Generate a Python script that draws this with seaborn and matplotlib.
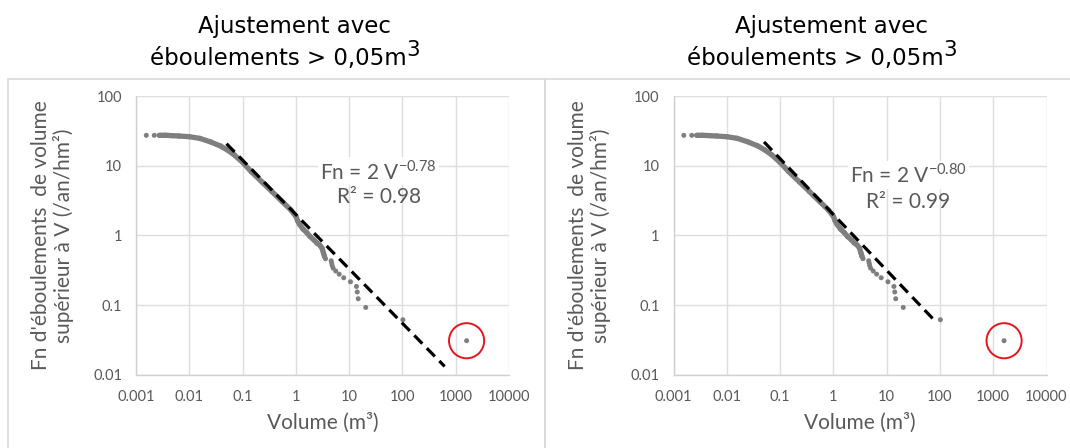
import matplotlib
matplotlib.use("Agg")
import matplotlib.pyplot as plt
from matplotlib.patches import Rectangle
import numpy as np
import pandas as pd
import seaborn as sns

# ---------------- data ----------------
# dense part of the cumulative curve (appears as a continuous thick line of dots)
curve_v = [0.0028, 0.0035, 0.0048, 0.0064, 0.010, 0.0157, 0.0245, 0.0384, 0.052,
           0.070, 0.101, 0.146, 0.229, 0.357, 0.558, 0.81, 1.01, 1.08, 1.17, 1.36,
           1.6, 1.84, 2.2, 2.48, 2.8, 3.09, 3.3, 3.45]
curve_fn = [27.3, 27.3, 27.0, 26.7, 26.1, 24.7, 22.1, 19.2, 16.8,
            14.3, 11.1, 8.2, 5.9, 4.25, 3.05, 2.32, 1.86, 1.62, 1.45, 1.24,
            1.10, 0.97, 0.86, 0.78, 0.73, 0.66, 0.56, 0.50]

# isolated points (start of the plateau and the tail)
point_v = [0.00156, 0.0022, 0.0027, 0.0030, 0.0033, 0.0036, 0.0040,
           3.6, 4.6, 4.7, 4.8, 5.0, 5.6, 6.5, 7.9, 10.6, 13.7, 14.2, 14.8, 20.5, 102, 1600]
point_fn = [27.3, 27.3, 27.3, 27.3, 27.3, 27.3, 27.3,
            0.465, 0.434, 0.403, 0.372, 0.341, 0.31, 0.279, 0.248, 0.217, 0.186, 0.155,
            0.124, 0.093, 0.062, 0.031]

# power-law fits shown on each panel: Fn = a * V^b
fit_a = [2, 2]
fit_b = [-0.78, -0.80]
fit_vmin = [0.05, 0.05]
fit_vmax = [620, 88]
r2_values = ["0.98", "0.99"]

x_ticks = [0.001, 0.01, 0.1, 1, 10, 100, 1000, 10000]
x_tick_labels = ["0.001", "0.01", "0.1", "1", "10", "100", "1000", "10000"]
y_ticks = [0.01, 0.1, 1, 10, 100]
y_tick_labels = ["0.01", "0.1", "1", "10", "100"]

title_line1 = "Ajustement avec"
title_line2 = "éboulements > 0,05m"
title_sup = "3"
x_label = "Volume (m³)"
y_label = "Fn d'éboulements  de volume\nsupérieur à V (/an/hm²)"

# ---------------- style ----------------
sns.set_theme(style="white")
plt.rcParams["font.family"] = ["Lato", "DejaVu Sans"]
plt.rcParams["mathtext.fontset"] = "custom"
plt.rcParams["mathtext.rm"] = "Lato"

TXT = "#595959"
GRID = "#dedede"
DOT = "#7f7f7f"

fig = plt.figure(figsize=(10.7, 4.48), dpi=100)
W, H = 1070.0, 448.0

# panel frames
fig.add_artist(Rectangle((7.5 / W, -0.05), (545 - 7.5) / W, 1.05 - 79.5 / H,
                         transform=fig.transFigure, fill=False, edgecolor="#d9d9d9", lw=1.2))
fig.add_artist(Rectangle((545 / W, -0.05), (1080 - 545) / W, 1.05 - 79.5 / H,
                         transform=fig.transFigure, fill=False, edgecolor="#d9d9d9", lw=1.2))

curve_df = pd.DataFrame({"V": curve_v, "Fn": curve_fn})
point_df = pd.DataFrame({"V": point_v, "Fn": point_fn})

ax_x0 = [136, 673.5]
title_cx = [294, 831]
title2_cx = [278, 815]
ann_x = [0.651, 0.630]
ann_y1 = [0.731, 0.717]
ann_y2 = [0.638, 0.621]

for i in range(2):
    ax = fig.add_axes([ax_x0[i] / W, 1 - 375 / H, 373 / W, 279 / H])
    ax.set_xscale("log")
    ax.set_yscale("log")
    ax.set_xlim(0.001, 10000)
    ax.set_ylim(0.01, 100)

    ax.grid(True, which="major", color=GRID, lw=1.0)
    ax.set_axisbelow(True)
    for s in ["top", "right"]:
        ax.spines[s].set_visible(False)
    for s in ["left", "bottom"]:
        ax.spines[s].set_color("#d0d0d0")
        ax.spines[s].set_linewidth(1.0)

    # data
    sns.lineplot(data=curve_df, x="V", y="Fn", ax=ax, color=DOT, lw=3.8,
                 solid_capstyle="round", zorder=3)
    sns.scatterplot(data=curve_df, x="V", y="Fn", ax=ax, color=DOT, s=14,
                    edgecolor="none", zorder=3)
    sns.scatterplot(data=point_df, x="V", y="Fn", ax=ax, color=DOT, s=13,
                    edgecolor="none", zorder=3)

    # fit line
    fv = np.array([fit_vmin[i], fit_vmax[i]])
    fit_df = pd.DataFrame({"V": fv, "Fn": fit_a[i] * fv ** fit_b[i]})
    sns.lineplot(data=fit_df, x="V", y="Fn", ax=ax, color="black", lw=2.3,
                 linestyle=(0, (3.6, 2.0)), zorder=4)

    # red circle around the outlier
    ax.scatter([point_v[-1]], [point_fn[-1]], s=640, facecolors="none",
               edgecolors="#e8141c", linewidths=1.4, zorder=5)

    # equation
    ax.text(ann_x[i], ann_y1[i],
            "Fn = %d V$^{\\mathregular{%.2f}}$" % (fit_a[i], fit_b[i]),
            transform=ax.transAxes, ha="center", va="center", fontsize=15, color=TXT,
            bbox=dict(facecolor="white", edgecolor="none", pad=1.5), zorder=6)
    ax.text(ann_x[i], ann_y2[i], "R² = " + r2_values[i],
            transform=ax.transAxes, ha="center", va="center", fontsize=15, color=TXT,
            zorder=6)

    ax.set_xticks(x_ticks)
    ax.set_xticklabels(x_tick_labels)
    ax.set_yticks(y_ticks)
    ax.set_yticklabels(y_tick_labels)
    ax.minorticks_off()
    ax.tick_params(axis="both", length=0, labelsize=10.5, labelcolor=TXT)
    ax.tick_params(axis="x", pad=11)
    ax.tick_params(axis="y", pad=10)

    ax.set_xlabel(x_label, fontsize=15, color=TXT, labelpad=6)
    ax.set_ylabel(y_label, fontsize=15, color=TXT, labelpad=14, linespacing=1.1)

    fig.text(title_cx[i] / W, 1 - 27 / H, title_line1, ha="center", va="center",
             fontsize=16.5, color="black", family="DejaVu Sans")
    t2 = fig.text(title2_cx[i] / W, 1 - 58 / H, title_line2, ha="center", va="center",
                  fontsize=16.5, color="black", family="DejaVu Sans")
    ax.annotate(title_sup, xy=(1.0, 0.42), xycoords=t2, xytext=(0.3, 0),
                textcoords="offset points", ha="left", va="bottom",
                fontsize=15.5, color="black", family="DejaVu Sans", annotation_clip=False)

fig.savefig("out.png", dpi=100, facecolor="white")
